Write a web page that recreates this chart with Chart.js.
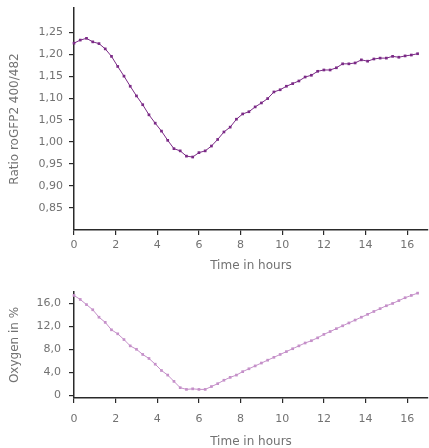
<!DOCTYPE html>
<html>
<head>
<meta charset="utf-8">
<script src="https://cdn.jsdelivr.net/npm/chart.js@4.4.1/dist/chart.umd.min.js"></script>
<style>
  html, body { margin: 0; padding: 0; background: #fff; }
  #top { position: absolute; left: 0; top: 0; width: 429px; height: 280px; }
  #bottom { position: absolute; left: 0; top: 280px; width: 429px; height: 168px; }
</style>
</head>
<body>
<div id="top"><canvas id="ratioChart"></canvas></div>
<div id="bottom"><canvas id="oxygenChart"></canvas></div>
<script>
// Messzeitpunkte (Stunden)
const hours = [0, 0.3, 0.6, 0.9, 1.2, 1.5, 1.8, 2.1, 2.4, 2.7, 3.0, 3.3, 3.6, 3.9, 4.2, 4.5, 4.8, 5.1, 5.4, 5.7,
  6.0, 6.3, 6.6, 6.9, 7.2, 7.5, 7.8, 8.1, 8.4, 8.7, 9.0, 9.3, 9.6, 9.9, 10.2, 10.5, 10.8, 11.1, 11.4, 11.7,
  12.0, 12.3, 12.6, 12.9, 13.2, 13.5, 13.8, 14.1, 14.4, 14.7, 15.0, 15.3, 15.6, 15.9, 16.2, 16.5];

// roGFP2 400/482
const ratio = [1.225, 1.232, 1.236, 1.228, 1.224, 1.212, 1.195, 1.172, 1.150, 1.127, 1.105, 1.085, 1.062, 1.043, 1.025, 1.004, 0.985, 0.980, 0.968, 0.966,
  0.976, 0.980, 0.991, 1.006, 1.023, 1.034, 1.052, 1.064, 1.069, 1.080, 1.089, 1.099, 1.114, 1.119, 1.127, 1.133, 1.139, 1.148, 1.152, 1.161,
  1.164, 1.164, 1.169, 1.178, 1.178, 1.180, 1.187, 1.184, 1.189, 1.191, 1.191, 1.195, 1.193, 1.196, 1.198, 1.201];

// Sauerstoff in %
const oxygen = [17.4, 16.7, 15.8, 14.9, 13.6, 12.7, 11.4, 10.7, 9.7, 8.6, 8.0, 7.1, 6.4, 5.4, 4.3, 3.5, 2.4, 1.3, 1.0, 1.1,
  1.0, 1.0, 1.5, 2.0, 2.6, 3.1, 3.5, 4.1, 4.6, 5.1, 5.6, 6.1, 6.6, 7.1, 7.6, 8.1, 8.6, 9.1, 9.5, 10.0,
  10.6, 11.1, 11.6, 12.1, 12.6, 13.1, 13.6, 14.1, 14.6, 15.1, 15.6, 16.0, 16.5, 17.0, 17.4, 17.8];

const hourTicks = [0, 2, 4, 6, 8, 10, 12, 14, 16];
const ratioTickValues = [0.85, 0.90, 0.95, 1.00, 1.05, 1.10, 1.15, 1.20, 1.25];
const ratioTickLabels = ["0,85", "0,90", "0,95", "1,00", "1,05", "1,10", "1,15", "1,20", "1,25"];
const oxygenTickValues = [0, 4, 8, 12, 16];
const oxygenTickLabels = ["0", "4,0", "8,0", "12,0", "16,0"];

const FONT = "'DejaVu Sans', sans-serif";
const TEXT = "#727272";
const AXIS = "#2a2a2a";

function axisBase() {
  return {
    grid: { display: true, drawOnChartArea: false, drawTicks: true, tickLength: 5, color: AXIS, lineWidth: 1.2 },
    border: { display: true, color: AXIS, width: 1.5 },
  };
}

function makeChart(id, values, color, cfg) {
  const points = hours.map((h, i) => ({ x: h, y: values[i] }));
  return new Chart(document.getElementById(id), {
    type: "line",
    data: {
      datasets: [{
        data: points,
        borderColor: color,
        backgroundColor: color,
        borderWidth: 1,
        pointStyle: "rect",
        pointRadius: 1.9,
        pointBorderWidth: 0,
        tension: 0,
        clip: 4,
      }]
    },
    options: {
      responsive: true,
      maintainAspectRatio: false,
      animation: false,
      layout: { padding: cfg.padding, autoPadding: false },
      plugins: { legend: { display: false }, tooltip: { enabled: false } },
      scales: {
        x: {
          ...axisBase(),
          type: "linear",
          min: 0,
          max: 17,
          afterBuildTicks: (s) => { s.ticks = hourTicks.map(v => ({ value: v })); },
          afterFit: (s) => { s.height = cfg.xHeight; s.paddingLeft = 0; s.paddingRight = 0; },
          ticks: { color: TEXT, font: { family: FONT, size: 11 }, padding: cfg.xPad, maxRotation: 0 },
          title: { display: true, text: "Time in hours", color: TEXT, font: { family: FONT, size: 12 }, padding: { top: 0, bottom: cfg.titlePad } },
        },
        y: {
          ...axisBase(),
          type: "linear",
          min: cfg.yMin,
          max: cfg.yMax,
          afterBuildTicks: (s) => { s.ticks = cfg.tickValues.map(v => ({ value: v })); },
          afterFit: (s) => { s.width = 74; s.paddingTop = 0; s.paddingBottom = 0; },
          ticks: {
            color: TEXT, font: { family: FONT, size: 11 }, padding: cfg.yPad,
            callback: (v) => cfg.tickLabels[cfg.tickValues.indexOf(v)],
          },
          title: { display: true, text: cfg.yTitle, color: TEXT, font: { family: FONT, size: 12 }, padding: { top: 8, bottom: 0 } },
        }
      }
    }
  });
}

makeChart("ratioChart", ratio, "#7b2a86", {
  padding: { top: 8, right: 1, left: 0, bottom: 0 },
  xHeight: 50, xPad: 4, titlePad: 7, yPad: 6,
  yMin: 0.80, yMax: 1.305,
  tickValues: ratioTickValues, tickLabels: ratioTickLabels,
  yTitle: "Ratio roGFP2 400/482",
});

makeChart("oxygenChart", oxygen, "#c590c9", {
  padding: { top: 12, right: 1, left: 0, bottom: 0 },
  xHeight: 50, xPad: 10, titlePad: -1, yPad: 8,
  yMin: -0.5, yMax: 18,
  tickValues: oxygenTickValues, tickLabels: oxygenTickLabels,
  yTitle: "Oxygen in %",
});
</script>
</body>
</html>
